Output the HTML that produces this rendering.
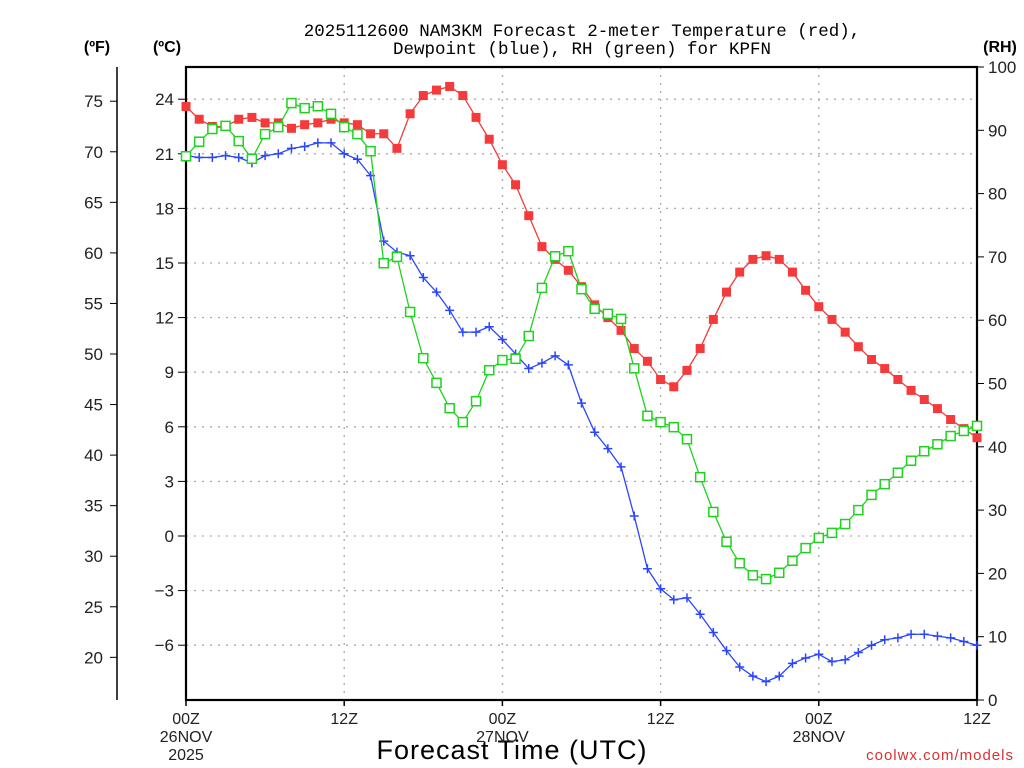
<!DOCTYPE html>
<html><head><meta charset="utf-8"><style>
html,body{margin:0;padding:0;background:#fff;}
svg{display:block;font-family:"Liberation Sans",sans-serif;}
</style></head><body>
<svg id="chart" width="1024" height="768" viewBox="0 0 1024 768" xmlns="http://www.w3.org/2000/svg">
<text x="582" y="36" font-size="17.5" font-family="Liberation Mono, monospace" text-anchor="middle" fill="#000">2025112600 NAM3KM Forecast 2-meter Temperature (red),</text>
<text x="582" y="54" font-size="17.5" font-family="Liberation Mono, monospace" text-anchor="middle" fill="#000">Dewpoint (blue), RH (green) for KPFN</text>
<text x="97" y="52" font-size="16" font-weight="bold" text-anchor="middle">(ºF)</text>
<text x="167" y="52" font-size="16" font-weight="bold" text-anchor="middle">(ºC)</text>
<text x="1000" y="52" font-size="16" font-weight="bold" text-anchor="middle">(RH)</text>
<text x="512" y="759" font-size="27" text-anchor="middle" letter-spacing="1">Forecast Time (UTC)</text>
<text x="1014" y="760" font-size="15" text-anchor="end" fill="#e03030" letter-spacing="1">coolwx.com/models</text>
<g id="grid"></g><g id="axes"></g><g id="series"></g>
</svg>
<script>
const hours = Array.from({length:61},(_,i)=>i);
const tempC = [23.6,22.9,22.5,22.5,22.9,23.0,22.7,22.7,22.4,22.6,22.7,22.9,22.7,22.6,22.1,22.1,21.3,23.2,24.2,24.5,24.7,24.2,23.0,21.8,20.4,19.3,17.6,15.9,15.2,14.6,13.7,12.7,12.0,11.3,10.3,9.6,8.6,8.2,9.1,10.3,11.9,13.4,14.5,15.2,15.4,15.2,14.5,13.5,12.6,11.9,11.2,10.4,9.7,9.2,8.6,8.0,7.5,7.0,6.4,5.9,5.4];
const dewC = [20.9,20.8,20.8,20.9,20.8,20.5,20.9,21.0,21.3,21.4,21.6,21.6,21.0,20.7,19.8,16.2,15.6,15.4,14.2,13.4,12.4,11.2,11.2,11.5,10.8,10.0,9.2,9.5,9.9,9.4,7.3,5.7,4.8,3.8,1.1,-1.8,-2.9,-3.5,-3.4,-4.3,-5.3,-6.3,-7.2,-7.7,-8.0,-7.7,-7.0,-6.7,-6.5,-6.9,-6.8,-6.4,-6.0,-5.7,-5.6,-5.4,-5.4,-5.5,-5.6,-5.8,-6.0];
const rh = [85.9,88.2,90.2,90.7,88.3,85.5,89.4,90.5,94.3,93.5,93.8,92.6,90.5,89.4,86.7,69.0,70.0,61.3,54.0,50.1,46.1,43.9,47.2,52.1,53.7,53.9,57.5,65.1,70.1,70.9,64.9,61.8,61.0,60.2,52.4,44.9,43.9,43.1,41.2,35.2,29.7,25.0,21.6,19.7,19.1,20.1,22.0,24.0,25.6,26.4,27.8,30.0,32.4,34.1,35.9,37.8,39.3,40.4,41.7,42.5,43.3];
const cTicks = [-6,-3,0,3,6,9,12,15,18,21,24];
const fTicks = [20,25,30,35,40,45,50,55,60,65,70,75];
const rhTicks = [0,10,20,30,40,50,60,70,80,90,100];
const xTickHours = [0,12,24,36,48,60];
const xTickLine1 = ["00Z","12Z","00Z","12Z","00Z","12Z"];
const xTickLine2 = ["26NOV","","27NOV","","28NOV",""];
const xTickLine3 = ["2025","","","","",""];

const L=186,R=977,T=67,B=700;
const xs = h => L + (R-L)*h/60;
const yC = c => 536 - 18.2*c;
const yF = f => yC((f-32)/1.8);
const yRH = r => B - (B-T)*r/100;
const NS="http://www.w3.org/2000/svg";
function mk(parent,tag,attrs){const e=document.createElementNS(NS,tag);for(const k in attrs)e.setAttribute(k,attrs[k]);parent.appendChild(e);return e;}
const grid=document.getElementById('grid'), axes=document.getElementById('axes'), series=document.getElementById('series');

cTicks.forEach(c=>{
  const g=mk(grid,'line',{x1:L,x2:R,y1:yC(c),y2:yC(c),stroke:'#aaa','stroke-width':1.3,'stroke-dasharray':'2,6'});
  
  
  mk(axes,'line',{x1:L-8,x2:L,y1:yC(c),y2:yC(c),stroke:'#000','stroke-width':1});
  const t=mk(axes,'text',{x:L-12,y:yC(c)+6,'font-size':17,'text-anchor':'end',fill:'#222'});
  t.textContent=(c<0?'\u2212'+(-c):c);
  
  
});
xTickHours.forEach((h,i)=>{
  if(h>0&&h<60){const g=mk(grid,'line',{x1:xs(h),x2:xs(h),y1:T,y2:B,stroke:'#aaa','stroke-width':1.3,'stroke-dasharray':'2,6'});
  
  }
  mk(axes,'line',{x1:xs(h),x2:xs(h),y1:B,y2:B+6,stroke:'#000','stroke-width':1.5});
  [xTickLine1[i],xTickLine2[i],xTickLine3[i]].forEach((s,j)=>{
    if(!s)return;
    const t=mk(axes,'text',{x:xs(h),y:724+j*18,'font-size':16,'text-anchor':'middle',fill:'#222'});
    t.textContent=s;
    
    
  });
});
mk(axes,'line',{x1:117,x2:117,y1:67,y2:700,stroke:'#000','stroke-width':1.5});
fTicks.forEach(f=>{
  mk(axes,'line',{x1:110,x2:117,y1:yF(f),y2:yF(f),stroke:'#000','stroke-width':1});
  const t=mk(axes,'text',{x:103,y:yF(f)+6,'font-size':17,'text-anchor':'end',fill:'#222'});
  t.textContent=f;
  
  
});
rhTicks.forEach(r=>{
  mk(axes,'line',{x1:R,x2:R+7,y1:yRH(r),y2:yRH(r),stroke:'#000','stroke-width':1});
  const t=mk(axes,'text',{x:988,y:yRH(r)+6,'font-size':17,'text-anchor':'start',fill:'#222'});
  t.textContent=r;
  
  
});
const frame=mk(axes,'rect',{x:L,y:T,width:R-L,height:B-T,fill:'none',stroke:'#000','stroke-width':2.2});



function drawLine(vals,yf,color,name){
  const p=mk(series,'polyline',{points:vals.map((v,i)=>xs(hours[i])+','+yf(v)).join(' '),fill:'none',stroke:color,'stroke-width':1.3});
  
  
}
drawLine(dewC,yC,'#2a45ff','dewpoint-line');
dewC.forEach((v,i)=>{
  const x=xs(hours[i]),y=yC(v);
  const p=mk(series,'path',{d:`M${x-4.5},${y}H${x+4.5}M${x},${y-4.5}V${y+4.5}`,stroke:'#2a45ff','stroke-width':1.5,fill:'none'});
  
  
});
drawLine(tempC,yC,'#f43a3a','temperature-line');
tempC.forEach((v,i)=>{
  const r=mk(series,'rect',{x:xs(hours[i])-4.5,y:yC(v)-4.5,width:9,height:9,fill:'#f43a3a'});
  
  
});
drawLine(rh,yRH,'#1ed21e','rh-line');
rh.forEach((v,i)=>{
  const r=mk(series,'rect',{x:xs(hours[i])-4.5,y:yRH(v)-4.5,width:9,height:9,fill:'#fff',stroke:'#1ed21e','stroke-width':1.5});
  
  
});
</script>
</body></html>
